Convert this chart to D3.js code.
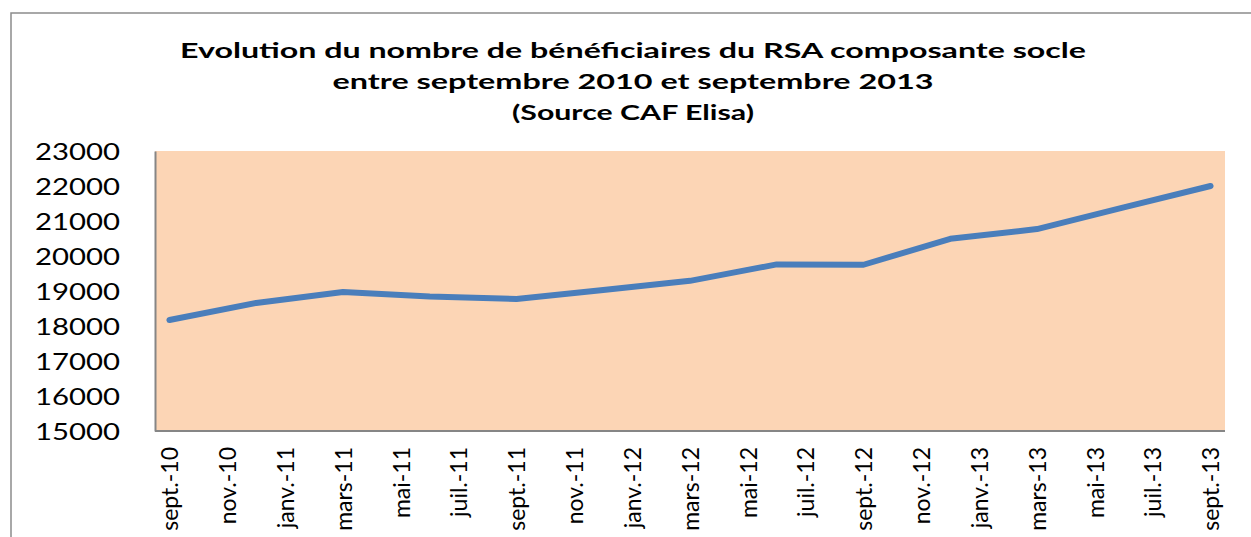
<!DOCTYPE html>
<html>
<head>
<meta charset="utf-8">
<script src="https://cdn.jsdelivr.net/npm/d3@7"></script>
<style>
  html, body { margin: 0; padding: 0; background: #fff; }
</style>
</head>
<body>
<div id="root"></div>
<script>
const SVG_WIDTH = 1251;
const SVG_HEIGHT = 537;
const PLOT = { left: 155, right: 1225, top: 151, bottom: 431 };
const FONT = 'Lato, "Open Sans", sans-serif';

const titleLines = [
  'Evolution du nombre de bénéficiaires du RSA composante socle',
  'entre septembre 2010 et septembre 2013',
  '(Source CAF Elisa)',
];

// mois de l'axe (axe date, unité de base : mois)
const months = [
  'sept.-10', 'oct.-10', 'nov.-10', 'déc.-10',
  'janv.-11', 'févr.-11', 'mars-11', 'avr.-11', 'mai-11', 'juin-11',
  'juil.-11', 'août-11', 'sept.-11', 'oct.-11', 'nov.-11', 'déc.-11',
  'janv.-12', 'févr.-12', 'mars-12', 'avr.-12', 'mai-12', 'juin-12',
  'juil.-12', 'août-12', 'sept.-12', 'oct.-12', 'nov.-12', 'déc.-12',
  'janv.-13', 'févr.-13', 'mars-13', 'avr.-13', 'mai-13', 'juin-13',
  'juil.-13', 'août-13', 'sept.-13',
];

const tickLabels = [
  'sept.-10', 'nov.-10', 'janv.-11', 'mars-11', 'mai-11', 'juil.-11',
  'sept.-11', 'nov.-11', 'janv.-12', 'mars-12', 'mai-12', 'juil.-12',
  'sept.-12', 'nov.-12', 'janv.-13', 'mars-13', 'mai-13', 'juil.-13',
  'sept.-13',
];

const yTicks = [15000, 16000, 17000, 18000, 19000, 20000, 21000, 22000, 23000];

const dataMonths = [
  'sept.-10', 'déc.-10', 'mars-11', 'juin-11', 'sept.-11', 'déc.-11',
  'mars-12', 'juin-12', 'sept.-12', 'déc.-12', 'mars-13', 'juin-13',
  'sept.-13',
];
const beneficiaires = [
  18170, 18660, 18970, 18840, 18770, 19030,
  19290, 19760, 19750, 20490, 20770, 21390,
  22000,
];

/**
 * conteneur svg
 */
function addSvg() {
  const svg = document.createElementNS('http://www.w3.org/2000/svg', 'svg');
  svg.id = 'svg';
  svg.setAttribute('width', SVG_WIDTH);
  svg.setAttribute('height', SVG_HEIGHT);
  return svg;
}

/**
 * cadre du graphique + titre
 */
function frame() {
  const svg = d3.select('#svg');
  svg.append('rect')
    .attr('x', 11).attr('y', 13)
    .attr('width', SVG_WIDTH + 20).attr('height', SVG_HEIGHT + 20)
    .attr('fill', '#fff')
    .attr('stroke', '#8c8c8c')
    .attr('stroke-width', 1.5);

  const widths = [906, 601, 242];
  svg.append('g')
    .selectAll('text')
    .data(titleLines)
    .join('text')
    .attr('x', 633)
    .attr('y', (d, i) => 58 + i * 31)
    .attr('text-anchor', 'middle')
    .attr('font-family', FONT)
    .attr('font-weight', 'bold')
    .attr('font-size', 21)
    .attr('textLength', (d, i) => widths[i])
    .attr('lengthAdjust', 'spacingAndGlyphs')
    .attr('fill', '#000')
    .text((d) => d);
}

/**
 * zone de tracé, axes et courbe
 */
function fill() {
  const svg = d3.select('#svg');
  const xScale = d3.scalePoint().domain(months).range([PLOT.left, PLOT.right]).padding(0.5);
  const yScale = d3.scaleLinear().domain([15000, 23000]).range([PLOT.bottom, PLOT.top]);

  svg.append('rect')
    .attr('x', PLOT.left).attr('y', PLOT.top)
    .attr('width', PLOT.right - PLOT.left)
    .attr('height', PLOT.bottom - PLOT.top)
    .attr('fill', '#fcd5b5');

  // axe Y
  const yAxis = svg.append('g')
    .attr('transform', `translate(${PLOT.left},0)`)
    .call(d3.axisLeft(yScale).tickValues(yTicks).tickSize(0).tickPadding(35).tickFormat(d3.format('d')));
  yAxis.select('.domain').attr('stroke', '#868686').attr('stroke-width', 2);
  yAxis.selectAll('text')
    .attr('font-family', FONT)
    .attr('font-size', 23)
    .attr('fill', '#000')
    .attr('dy', '0.36em')
    .attr('textLength', 85)
    .attr('lengthAdjust', 'spacingAndGlyphs');

  // axe X
  const xAxis = svg.append('g')
    .attr('transform', `translate(0,${PLOT.bottom})`)
    .call(d3.axisBottom(xScale).tickValues(tickLabels).tickSize(0).tickSizeOuter(0));
  xAxis.select('.domain')
    .attr('d', `M${PLOT.left},0H${PLOT.right}`)
    .attr('stroke', '#868686').attr('stroke-width', 2);
  xAxis.selectAll('text')
    .attr('font-family', FONT)
    .attr('font-size', 23)
    .attr('fill', '#000')
    .attr('text-anchor', 'end')
    .attr('transform', 'rotate(-90)')
    .attr('x', -16)
    .attr('y', 0)
    .attr('dy', '0.36em');

  const line = d3.line()
    .x((d, i) => xScale(dataMonths[i]))
    .y((d) => yScale(d));
  svg.append('g')
    .append('path')
    .attr('d', line(beneficiaires))
    .attr('fill', 'none')
    .attr('stroke', '#4a7ebb')
    .attr('stroke-width', 6)
    .attr('stroke-linejoin', 'round')
    .attr('stroke-linecap', 'round');
}

function main() {
  frame();
  fill();
}

const root = document.getElementById('root');
root.appendChild(addSvg());
main();
</script>
</body>
</html>
